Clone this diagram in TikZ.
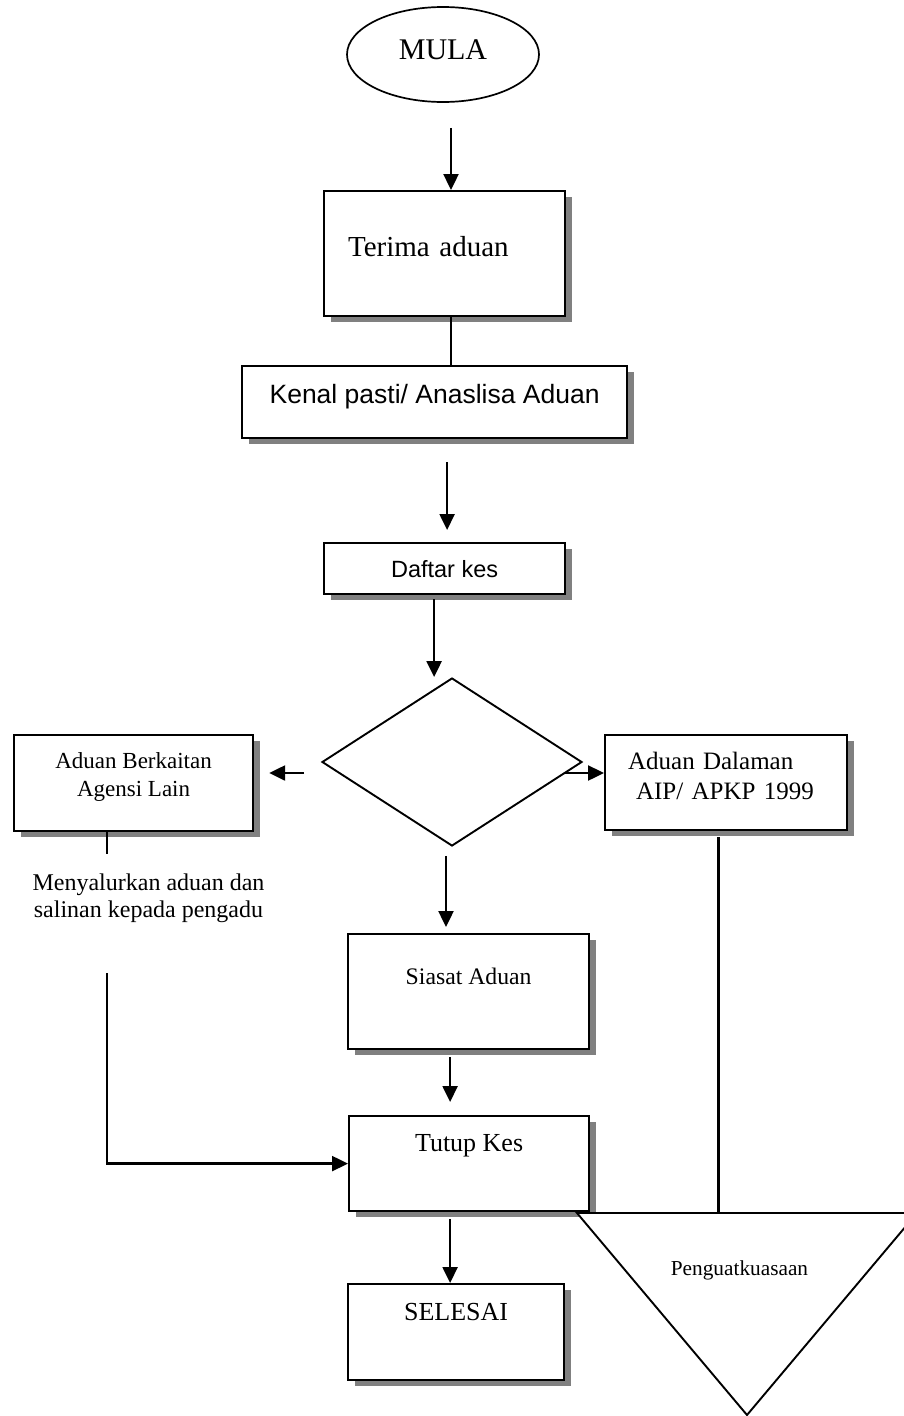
\documentclass[tikz,border=0pt]{standalone}
\usepackage{fontspec}
\setmainfont{Liberation Serif}
\newfontfamily\arialfont{Liberation Sans}
\usetikzlibrary{shapes.geometric,shadows,calc,arrows.meta}
\newcommand{\fsz}[2]{\fontsize{#1pt}{#2pt}\selectfont}
\tikzset{
	box/.style={draw, line width=2.2pt, fill=white, inner sep=0pt,
		drop shadow={shadow xshift=7pt, shadow yshift=-6pt, fill=black!50, opacity=1}},
	arr/.style={line width=2.4pt, -{Triangle[length=16pt,width=15pt]}},
	conn/.style={line width=2.4pt}
}
\begin{document}
\begin{tikzpicture}[x=1pt,y=-1pt]
	\useasboundingbox (0,0) rectangle (903,1416);
	\node[ellipse, draw, line width=1.7pt, minimum width=192pt, minimum height=95pt, inner sep=0pt, text depth=10pt, font=\fsz{30}{36}] (mula) at (443,54.5) {MULA};
	\node[box, anchor=north west, minimum width=241pt, text width=193pt, align=left, text height=65pt, text depth=60pt, font=\fsz{29}{34}] (terima) at (323,190) {Terima aduan};
	\node[box, anchor=north west, minimum width=385pt, text height=37pt, text depth=35pt, font=\arialfont\fsz{26.5}{32}] (kenal) at (241,365) {Kenal pasti/ Anaslisa Aduan};
	\node[box, anchor=north west, minimum width=241pt, text height=34pt, text depth=17pt, font=\arialfont\fsz{23.5}{28}] (daftar) at (323,542) {Daftar kes};
	\node[diamond, draw, line width=1.9pt, minimum width=260pt, minimum height=168pt, inner sep=0pt] (dec) at (452,762) {};
	\node[box, anchor=north west, minimum width=239pt, text height=61pt, text depth=35pt, align=center, font=\fsz{23}{28}] (lbox) at (13,734) {Aduan Berkaitan\\Agensi Lain};
	\node[box, anchor=north west, minimum width=242pt, text width=196pt, align=left, text height=34pt, text depth=61pt, font=\fsz{25}{30}] (rbox) at (604,734) {Aduan Dalaman\\\hspace*{8pt}AIP/ APKP 1999};
	\node[anchor=north, inner sep=0pt, align=center, text height=44pt, text depth=5pt, font=\fsz{24}{27}] (note) at (148.5,873) {Menyalurkan aduan dan\\salinan kepada pengadu};
	\node[box, anchor=north west, minimum width=241pt, text height=50pt, text depth=65pt, font=\fsz{23.7}{28}] (siasat) at (347,933) {Siasat Aduan};
	\node[box, anchor=north west, minimum width=240pt, text height=35pt, text depth=60pt, font=\fsz{26}{31}] (tutup) at (348,1115) {Tutup Kes};
	\node[box, anchor=north west, minimum width=216pt, text height=36pt, text depth=60pt, font=\fsz{26}{31}] (selesai) at (347,1283) {SELESAI};
	% penguatkuasaan
	\coordinate (pa) at (577,1213);
	\coordinate (pb) at (917,1213);
	\coordinate (pc) at (747,1415);
	\draw[line width=1.9pt, fill=white] (pa) -- (pb) -- (pc) -- cycle;
	\node[anchor=base, font=\fsz{21.3}{26}] (enf) at (739.5,1275) {Penguatkuasaan};
	
	\draw[arr] ($(mula.south)+(8,25)$) -- ($(mula.south |- terima.north)+(8,0)$);
	\draw[conn] ($(terima.south)+(6.5,0)$) -- ($(terima.south |- kenal.north)+(6.5,0)$);
	\draw[arr] ($(kenal.south)+(12.5,23)$) -- ($(kenal.south |- daftar.north)+(12.5,-12)$);
	\draw[arr] ($(daftar.south)+(-10.5,4)$) -- ($(daftar.south |- dec.north)+(-10.5,0)$);
	\draw[arr] ($(dec.west)+(-17,11)$) -- ($(dec.west -| lbox.east)+(15,11)$);
	\draw[arr] ($(dec.east)+(-19,11)$) -- ($(dec.east -| rbox.west)+(0,11)$);
	\draw[arr] ($(dec.south)+(-6,9)$) -- ($(dec.south |- siasat.north)+(-6,-6)$);
	\draw[arr] ($(siasat.south)+(-18.5,7)$) -- ($(siasat.south |- tutup.north)+(-18.5,-13)$);
	\draw[arr] ($(tutup.south)+(-19,7)$) -- ($(tutup.south |- selesai.north)+(-19,0)$);
	\draw[conn] ($(lbox.south)+(-26.5,0)$) -- ($(lbox.south |- note.north)+(-26.5,-19)$);
	\draw[arr] ($(lbox.south |- note.south)+(-26.5,51)$) |- (tutup.west);
	\draw[conn] ($(rbox.south)+(-7.5,6)$) -- ($(rbox.south |- pa)+(-7.5,0)$);
\end{tikzpicture}
\end{document}
